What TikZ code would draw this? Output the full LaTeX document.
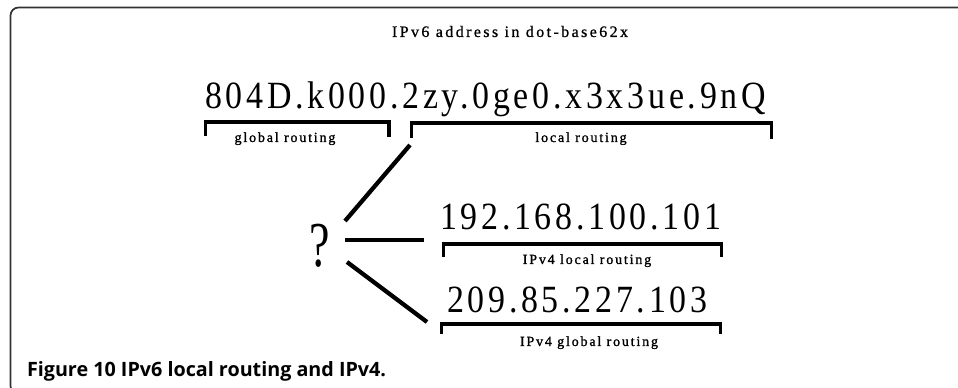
\documentclass[tikz,border=0pt]{standalone}
\usepackage{fontspec}
\setmainfont{Liberation Serif}
\newfontfamily\addrfont[LetterSpace=11]{Liberation Serif}
\newfontfamily\labfont[LetterSpace=13,FakeBold=1.2]{Liberation Serif}
\newfontfamily\titlefont[LetterSpace=15,FakeBold=0.8]{Liberation Serif}
\newfontfamily\capfont{Open Sans}
\newcommand{\narrowtxt}[1]{\scalebox{0.88}[1]{#1}}
\begin{document}
\begin{tikzpicture}[x=0.75pt,y=-0.75pt,
  txt/.style={inner sep=0pt, outer sep=0pt},
  addr/.style={txt, anchor=base west, font=\addrfont\fontsize{28.9pt}{30pt}\selectfont},
  lab/.style={txt, anchor=base, font=\labfont\fontsize{10.5pt}{12pt}\selectfont},
  brk/.style={line width=2.4pt, line join=miter, line cap=butt},
  conn/.style={line width=3.2pt, line cap=butt},
  frame/.style={line width=1.3pt, draw=black!80, rounded corners=6pt}]
\useasboundingbox (0,0) rectangle (958,388);
\clip (0,0) rectangle (958,388);
% frame
\draw[frame] (970,7.5) -- (10.5,7.5) -- (10.5,394) -- (80,394);
% title
\node[txt, anchor=base west, font=\titlefont\fontsize{12pt}{14pt}\selectfont] (title) at (392,37) {IPv6 address in dot-base62x};
% IPv6 address
\node[addr] (addr) at (205,109) {\narrowtxt{804D.k000.2zy.0ge0.x3x3ue.9nQ}};
\draw[brk] (205.5,136) -- (205.5,122) -- (389,122) -- (389,137);
\draw[brk] (411.5,138) -- (411.5,123) -- (771.5,123) -- (771.5,139);
\node[lab] (glab) at (285,142) {global routing};
\node[lab] (llab) at (581,142) {local routing};
% IPv4 addresses
\node[addr] (ip1) at (440,230) {\narrowtxt{192.168.100.101}};
\draw[brk] (443.5,257) -- (443.5,244) -- (721.5,244) -- (721.5,257);
\node[lab] (ip1lab) at (587,264) {IPv4 local routing};
\node[addr] (ip2) at (447,313) {\narrowtxt{209.85.227.103}};
\draw[brk] (441.5,334) -- (441.5,324) -- (720.5,324) -- (720.5,334);
\node[lab] (ip2lab) at (589,346) {IPv4 global routing};
% question mark and connectors
\node[txt, anchor=base, font=\fontsize{48pt}{50pt}\selectfont] (q) at (320,267) {\scalebox{0.72}[1]{?}};
\coordinate (qa) at (345,221);
\coordinate (qb) at (345,240);
\coordinate (qc) at (347,262);
\coordinate (ta) at (410,145);
\coordinate (tb) at (424,240);
\coordinate (tc) at (427,322);
\draw[conn] (qa) -- (ta);
\draw[conn] (qb) -- (tb);
\draw[conn] (qc) -- (tc);
% caption
\node[txt, anchor=base west, font=\capfont\bfseries\fontsize{14.8pt}{16pt}\selectfont] (cap) at (27,377) {Figure 10 IPv6 local routing and IPv4.};
\end{tikzpicture}
\end{document}
